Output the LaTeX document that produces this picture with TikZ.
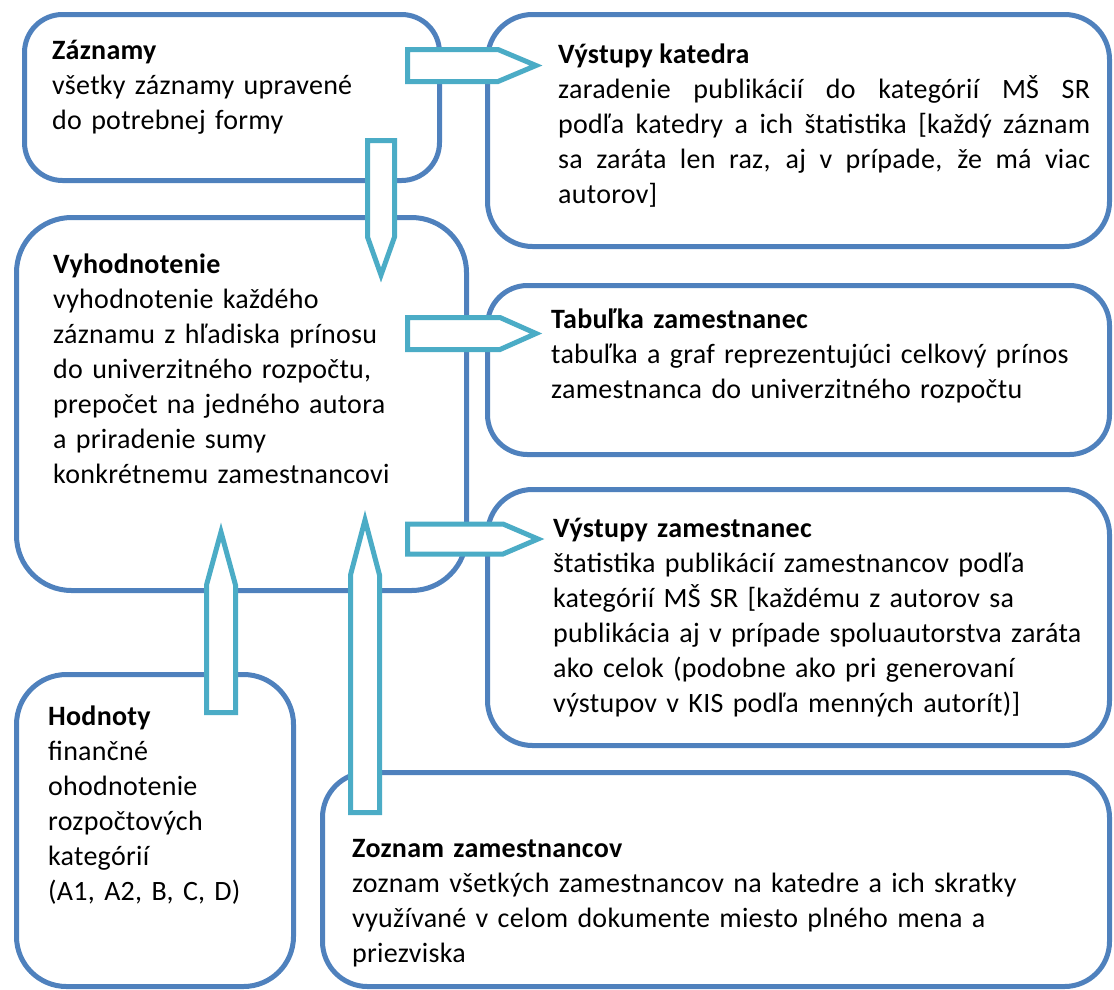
\documentclass[tikz,border=0pt]{standalone}
\usepackage{fontspec}
\setmainfont{Carlito}[LetterSpace=1.0]
\usepackage{tikz}
\definecolor{boxblue}{RGB}{79,129,189}
\definecolor{arraqua}{RGB}{75,172,198}

\begin{document}
\begin{tikzpicture}[x=1pt,y=-1pt]
\tikzstyle{every node}+=[inner sep=0pt]
\tikzstyle{box}=[draw=boxblue,line width=5pt,fill=white]
\tikzstyle{arr}=[draw=arraqua,line width=5pt,fill=white]
\tikzstyle{txt}=[anchor=base west,align=left,font=\fontsize{28}{35}\selectfont]
\useasboundingbox (0,0) rectangle (1114,989);
% boxes
\node[box,rounded corners=38pt,minimum width=415pt,minimum height=166pt] (zaznamy) at (232,97.5) {};
\node[box,rounded corners=45pt,minimum width=622pt,minimum height=232pt] (katedra) at (798.5,130.5) {};
\node[box,rounded corners=55pt,minimum width=450pt,minimum height=373pt] (vyhod) at (241.5,404) {};
\node[box,rounded corners=40pt,minimum width=622pt,minimum height=169pt] (tabulka) at (798.5,370) {};
\node[box,rounded corners=45pt,minimum width=622pt,minimum height=256pt] (vystupy) at (798.5,617.5) {};
\node[box,rounded corners=50pt,minimum width=277pt,minimum height=312pt] (hodnoty) at (155,830.5) {};
\node[box,rounded corners=45pt,minimum width=787pt,minimum height=214pt] (zoznam) at (716,879.5) {};
% texts
\node[txt,text width=380pt] (zaznamyT) at (52,59) {\textbf{Záznamy}\\všetky záznamy upravené\\do potrebnej formy};
\node[txt,text width=532pt,align=justify] (katedraT) at (558,63) {\textbf{Výstupy katedra}\\zaradenie publikácií do kategórií MŠ SR\linebreak podľa katedry a ich štatistika [každý záznam\linebreak sa zaráta len raz, aj v prípade, že má viac\linebreak autorov]};
\node[txt,text width=400pt] (vyhodT) at (53,273) {\textbf{Vyhodnotenie}\\vyhodnotenie každého\\záznamu z hľadiska prínosu\\do univerzitného rozpočtu,\\prepočet na jedného autora\\a priradenie sumy\\konkrétnemu zamestnancovi};
\node[txt,text width=540pt] (tabulkaT) at (551,328) {\textbf{Tabuľka zamestnanec}\\tabuľka a graf reprezentujúci celkový prínos\\zamestnanca do univerzitného rozpočtu};
\node[txt,text width=540pt] (vystupyT) at (553,537) {\textbf{Výstupy zamestnanec}\\štatistika publikácií zamestnancov podľa\\kategórií MŠ SR [každému z autorov sa\\publikácia aj v prípade spoluautorstva zaráta\\ako celok (podobne ako pri generovaní\\výstupov v KIS podľa menných autorít)]};
\node[txt,text width=230pt] (hodnotyT) at (48,725) {\textbf{Hodnoty}\\finančné\\ohodnotenie\\rozpočtových\\kategórií\\(A1, A2, B, C, D)};
\node[txt,text width=740pt] (zoznamT) at (352,857) {\textbf{Zoznam zamestnancov}\\zoznam všetkých zamestnancov na katedre a ich skratky\\využívané v celom dokumente miesto plného mena a\\priezviska};
% arrows
\draw[arr] (407.5,49.5) -- (498,49.5) -- (536,65.5) -- (498,81.5) -- (407.5,81.5) -- cycle;
\draw[arr] (367.5,140.5) -- (394.5,140.5) -- (394.5,237) -- (381,275) -- (367.5,237) -- cycle;
\draw[arr] (407.5,317.5) -- (500,317.5) -- (536,333.5) -- (500,349.5) -- (407.5,349.5) -- cycle;
\draw[arr] (407.5,524) -- (503,524) -- (538,539) -- (503,554) -- (407.5,554) -- cycle;
\draw[arr] (206.5,712.5) -- (235.5,712.5) -- (235.5,585) -- (221,532) -- (206.5,585) -- cycle;
\draw[arr] (350.5,812.5) -- (379.5,812.5) -- (379.5,575) -- (365,520) -- (350.5,575) -- cycle;
\end{tikzpicture}
\end{document}
